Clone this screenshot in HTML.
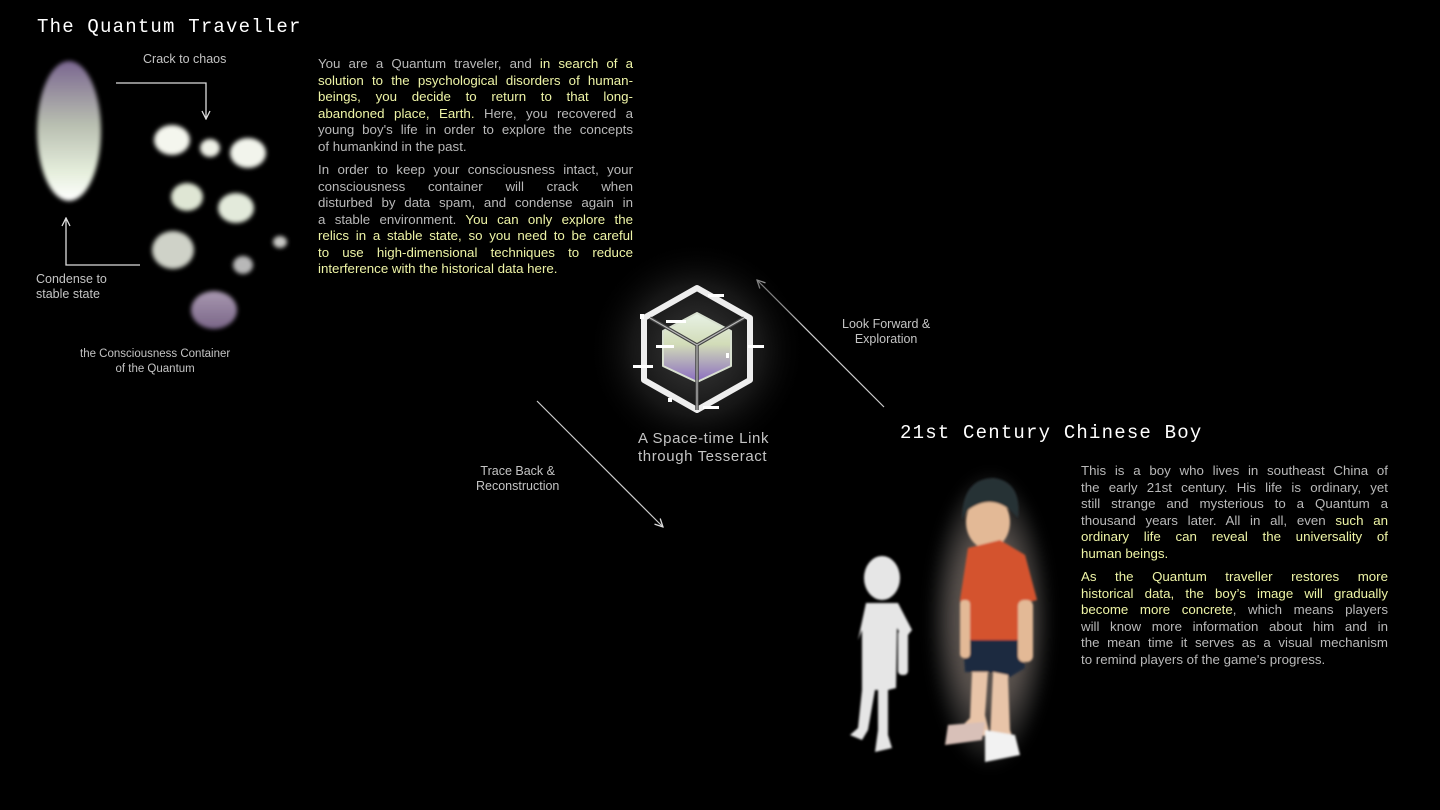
<!DOCTYPE html>
<html><head><meta charset="utf-8"><style>
html,body{margin:0;padding:0;background:#000;}
body{width:1440px;height:810px;position:relative;overflow:hidden;font-family:"Liberation Sans",sans-serif;color:#b9b9b9;}
.t{position:absolute;font-family:"Liberation Mono","DejaVu Sans Mono",monospace;color:#fff;font-size:19px;letter-spacing:1.2px;white-space:nowrap;}
.p{position:absolute;font-size:13.3px;}
.p div{height:16.5px;line-height:16.5px;text-align:justify;text-align-last:justify;white-space:nowrap;}
.p div.l{text-align-last:left;}
.y{color:#eef4a6;}
.lab{position:absolute;font-size:12.5px;color:#c4c4c4;text-align:center;line-height:15px;white-space:nowrap;}
svg{position:absolute;left:0;top:0;}
</style></head><body>
<svg width="1440" height="810" viewBox="0 0 1440 810">
<defs>
<linearGradient id="big" x1="0" y1="0" x2="0" y2="1">
<stop offset="0" stop-color="#7a6690"/><stop offset="0.45" stop-color="#b8beb0"/><stop offset="0.8" stop-color="#e6efdd"/><stop offset="1" stop-color="#fff"/></linearGradient>
<linearGradient id="pur" x1="0" y1="0" x2="0" y2="1"><stop offset="0" stop-color="#a898b0"/><stop offset="1" stop-color="#7a6688"/></linearGradient>
<linearGradient id="cube" x1="0" y1="0" x2="0" y2="1"><stop offset="0" stop-color="#e8f2e6"/><stop offset="0.45" stop-color="#d2dcb8"/><stop offset="1" stop-color="#8a6cc0"/></linearGradient>
<radialGradient id="glow"><stop offset="0" stop-color="#3a3a3a"/><stop offset="0.6" stop-color="#151515"/><stop offset="1" stop-color="#000" stop-opacity="0"/></radialGradient>
<radialGradient id="boyglow"><stop offset="0.55" stop-color="#ffe8dc" stop-opacity="0.35"/><stop offset="1" stop-color="#fff" stop-opacity="0"/></radialGradient>
<filter id="b2"><feGaussianBlur stdDeviation="2"/></filter>
<filter id="b1"><feGaussianBlur stdDeviation="1"/></filter>
<filter id="b6"><feGaussianBlur stdDeviation="6"/></filter>
<marker id="ah" markerWidth="10" markerHeight="10" refX="9" refY="5" orient="auto" markerUnits="userSpaceOnUse"><path d="M1,1 L9,5 L1,9" fill="none" stroke="#ddd" stroke-width="1.3"/></marker>
</defs>
<ellipse cx="69" cy="131" rx="32" ry="70" fill="url(#big)" filter="url(#b2)"/>
<g filter="url(#b2)">
<ellipse cx="172" cy="140" rx="18" ry="15" fill="#f4f6ee"/>
<ellipse cx="210" cy="148" rx="10" ry="9" fill="#eef0e6"/>
<ellipse cx="248" cy="153" rx="18" ry="15" fill="#f2f4ec"/>
<ellipse cx="187" cy="197" rx="16" ry="14" fill="#dfe6d4"/>
<ellipse cx="236" cy="208" rx="18" ry="15" fill="#e3eadb"/>
<ellipse cx="173" cy="250" rx="21" ry="19" fill="#cfd2c8"/>
<ellipse cx="280" cy="242" rx="7" ry="6" fill="#c8c8c4"/>
<ellipse cx="243" cy="265" rx="10" ry="9" fill="#b8b8b8"/>
<ellipse cx="214" cy="310" rx="23" ry="19" fill="url(#pur)"/>
</g>
<polyline points="116,83 206,83 206,119" fill="none" stroke="#ddd" stroke-width="1.3" marker-end="url(#ah)"/>
<polyline points="140,265 66,265 66,218" fill="none" stroke="#ddd" stroke-width="1.3" marker-end="url(#ah)"/>
<line x1="537" y1="401" x2="663" y2="527" stroke="#ccc" stroke-width="1.2" marker-end="url(#ah)"/>
<line x1="884" y1="407" x2="757" y2="280" stroke="#ccc" stroke-width="1.2" marker-end="url(#ah)"/>
<circle cx="697" cy="350" r="110" fill="url(#glow)"/>
<polygon points="697,313 731,331 731,366 697,382 663,366 663,331" fill="url(#cube)" stroke="#d8e0d0" stroke-width="2" stroke-linejoin="round"/>
<polygon points="697,288 750,318 750,380 697,410 644,380 644,318" fill="none" stroke="#eee" stroke-width="6" stroke-linejoin="round"/>
<path d="M697,345 L697,410 M697,345 L650,318 M697,345 L744,318" stroke="#444" stroke-width="3.5" fill="none"/>
<path d="M697,345 L697,410 M697,345 L650,318 M697,345 L744,318" stroke="#bbb" stroke-width="1.2" fill="none"/>
<g fill="#fff">
<rect x="708" y="294" width="16" height="3"/><rect x="666" y="320" width="20" height="3"/><rect x="633" y="365" width="20" height="3"/>
<rect x="656" y="345" width="18" height="3"/><rect x="748" y="345" width="16" height="3"/><rect x="703" y="406" width="16" height="3"/>
<rect x="640" y="314" width="4" height="5"/><rect x="726" y="353" width="3" height="5"/><rect x="668" y="398" width="4" height="4"/>
</g>
<ellipse cx="990" cy="620" rx="62" ry="150" fill="url(#boyglow)" filter="url(#b6)"/>
<g filter="url(#b1)" fill="#e6e6e6">
<ellipse cx="882" cy="578" rx="18" ry="22"/>
<path d="M866,603 L898,603 L912,630 L904,640 L897,628 L896,688 L888,690 L888,735 L892,748 L875,752 L878,730 L878,690 L875,690 L868,730 L862,740 L850,735 L858,728 L862,690 L862,630 L858,640 Z"/>
<rect x="898" y="630" width="10" height="45" rx="4"/>
</g>
<g filter="url(#b1)">
<ellipse cx="988" cy="522" rx="22" ry="27" fill="#e3b996"/>
<path d="M962,520 Q962,478 994,478 Q1022,482 1018,518 L1010,510 Q990,494 968,510 Z" fill="#263036"/>
<path d="M968,548 L1000,540 L1025,555 L1037,600 L1025,603 L1025,640 L1020,643 L1020,640 L965,640 L960,600 Z" fill="#d4532e"/>
<path d="M963,640 L1022,640 L1025,668 L1005,680 L990,672 L965,672 Z" fill="#1e2a40"/>
<path d="M972,672 L988,672 L985,715 L990,735 L948,740 L970,718 Z" fill="#e8c4a8"/>
<path d="M993,672 L1008,675 L1010,730 L1018,752 L985,760 L990,735 Z" fill="#e8c4a8"/>
<path d="M985,730 L1015,735 L1020,755 L985,762 Z" fill="#f2f2f2"/>
<path d="M948,725 L985,722 L982,740 L945,745 Z" fill="#d8c0b8"/>
<rect x="1018" y="600" width="15" height="62" rx="6" fill="#e3b996"/>
<rect x="960" y="600" width="10" height="58" rx="4" fill="#e3b996"/>
</g>
</svg>

<div class="t" style="left:37px;top:16px;">The Quantum Traveller</div>
<div class="t" style="left:900px;top:422px;">21st Century Chinese Boy</div>

<div class="lab" style="left:143px;top:52px;">Crack to chaos</div>
<div class="lab" style="left:36px;top:272px;text-align:left;">Condense to<br>stable state</div>
<div class="lab" style="left:80px;top:347px;font-size:11.5px;">the Consciousness Container<br>of the Quantum</div>
<div class="lab" style="left:842px;top:317px;">Look Forward &amp;<br>Exploration</div>
<div class="lab" style="left:476px;top:464px;">Trace Back &amp;<br>Reconstruction</div>
<div class="lab" style="left:638px;top:430px;font-size:15px;line-height:18px;text-align:left;letter-spacing:0.6px;">A Space-time Link<br>through Tesseract</div>

<div class="p" style="left:318px;top:56px;width:315px;">
<div>You are a Quantum traveler, and <span class="y">in search of a</span></div>
<div class="y">solution to the psychological disorders of human-</div>
<div class="y">beings, you decide to return to that long-</div>
<div><span class="y">abandoned place, Earth.</span> Here, you recovered a</div>
<div>young boy's life in order to explore the concepts</div>
<div class="l">of humankind in the past.</div>
<div style="height:7px"></div>
<div>In order to keep your consciousness intact, your</div>
<div>consciousness container will crack when</div>
<div>disturbed by data spam, and condense again in</div>
<div>a stable environment. <span class="y">You can only explore the</span></div>
<div class="y">relics in a stable state, so you need to be careful</div>
<div class="y">to use high-dimensional techniques to reduce</div>
<div class="y l">interference with the historical data here.</div>
</div>

<div class="p" style="left:1081px;top:463px;width:307px;">
<div>This is a boy who lives in southeast China of</div>
<div>the early 21st century. His life is ordinary, yet</div>
<div>still strange and mysterious to a Quantum a</div>
<div>thousand years later. All in all, even <span class="y">such an</span></div>
<div class="y">ordinary life can reveal the universality of</div>
<div class="y l">human beings.</div>
<div style="height:7px"></div>
<div class="y">As the Quantum traveller restores more</div>
<div class="y">historical data, the boy’s image will gradually</div>
<div><span class="y">become more concrete</span>, which means players</div>
<div>will know more information about him and in</div>
<div>the mean time it serves as a visual mechanism</div>
<div class="l">to remind players of the game's progress.</div>
</div>
</body></html>
